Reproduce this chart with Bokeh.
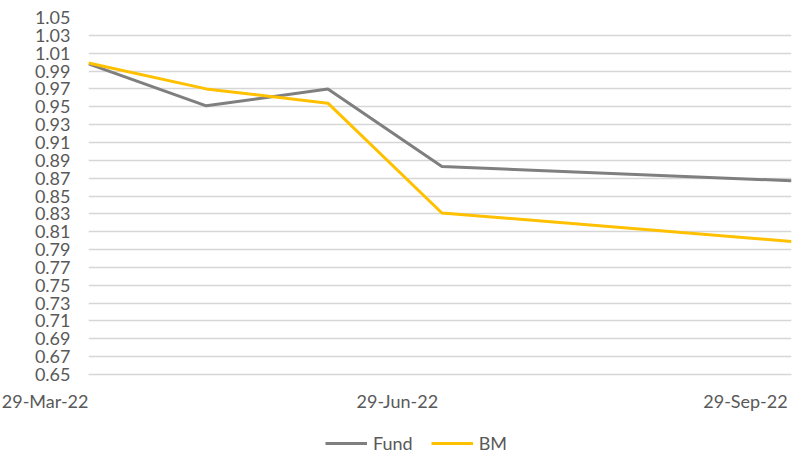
from datetime import datetime
import pandas as pd
from bokeh.plotting import figure
from bokeh.layouts import column
from bokeh.models import (Range1d, FixedTicker, NumeralTickFormatter, Legend,
                          LegendItem)
from bokeh.embed import file_html
from bokeh.resources import INLINE

# ---- data ----
dates = ["2022-03-29", "2022-04-29", "2022-05-31", "2022-06-30", "2022-09-30"]
fund = [0.998, 0.951, 0.970, 0.883, 0.867]
bm = [0.999, 0.970, 0.954, 0.831, 0.799]
y_ticks = [0.65, 0.67, 0.69, 0.71, 0.73, 0.75, 0.77, 0.79, 0.81, 0.83, 0.85,
           0.87, 0.89, 0.91, 0.93, 0.95, 0.97, 0.99, 1.01, 1.03, 1.05]
x_tick_dates = ["2022-03-29", "2022-06-29", "2022-09-29"]
x_tick_labels = ["29-Mar-22", "29-Jun-22", "29-Sep-22"]
series_names = ["Fund", "BM"]
series_colors = ["#7f7f7f", "#ffc000"]

FONT = "Lato"
TXT = "#595959"
FS = "18px"
GRID = "#d6d6d6"

x = pd.to_datetime(dates)
x_tick_ms = [pd.Timestamp(d).timestamp() * 1000 for d in x_tick_dates]

p = figure(width=792, height=430, x_axis_type="datetime",
           output_backend="svg", toolbar_location=None,
           x_range=Range1d(datetime(2022, 3, 29), datetime(2022, 9, 30)),
           y_range=Range1d(0.65, 1.05),
           min_border_left=88, min_border_right=1, min_border_top=17,
           min_border_bottom=56)
p.outline_line_color = None
p.xgrid.visible = False

p.xaxis.ticker = FixedTicker(ticks=x_tick_ms)
p.xaxis.major_label_overrides = {t: l for t, l in zip(x_tick_ms, x_tick_labels)}
p.xaxis.axis_line_color = GRID
p.xaxis.axis_line_width = 1.5
p.xaxis.major_tick_line_color = None
p.xaxis.minor_tick_line_color = None
p.xaxis.major_tick_out = 0
p.xaxis.major_tick_in = 0
p.xaxis.major_label_orientation = 0.0001
p.xaxis.major_label_standoff = 26
p.xaxis.major_label_text_font = FONT
p.xaxis.major_label_text_font_size = FS
p.xaxis.major_label_text_color = TXT

p.yaxis.ticker = FixedTicker(ticks=y_ticks)
p.yaxis.formatter = NumeralTickFormatter(format="0.00")
p.yaxis.axis_line_color = None
p.yaxis.major_tick_line_color = None
p.yaxis.minor_tick_line_color = None
p.yaxis.major_tick_out = 0
p.yaxis.major_tick_in = 0
p.yaxis.major_label_standoff = 18
p.yaxis.major_label_text_font = FONT
p.yaxis.major_label_text_font_size = FS
p.yaxis.major_label_text_color = TXT

p.ygrid.ticker = FixedTicker(ticks=y_ticks)
p.ygrid.grid_line_color = GRID
p.ygrid.grid_line_width = 1.5

p.line(x, fund, line_color=series_colors[0], line_width=3)
p.line(x, bm, line_color=series_colors[1], line_width=3)

# legend strip below the chart
p2 = figure(width=792, height=28, output_backend="svg", toolbar_location=None,
            x_axis_location=None, y_axis_location=None,
            min_border_left=0, min_border_right=0, min_border_top=0,
            min_border_bottom=0)
p2.outline_line_color = None
p2.grid.visible = False
items = []
nan = float("nan")
for name, col in zip(series_names, series_colors):
    r = p2.line([nan, nan], [nan, nan], line_color=col, line_width=3)
    items.append(LegendItem(label=name, renderers=[r]))

legend = Legend(items=items, orientation="horizontal", location=(237, 4))
legend.padding = 0
legend.margin = 0
legend.spacing = 18
legend.glyph_width = 42
legend.glyph_height = 20
legend.label_standoff = 6
legend.border_line_color = None
legend.background_fill_alpha = 0
legend.label_text_font = FONT
legend.label_text_font_size = FS
legend.label_text_color = TXT
p2.add_layout(legend, "center")

layout = column(p, p2, spacing=0)
open("out.html", "w").write(file_html(layout, INLINE))
